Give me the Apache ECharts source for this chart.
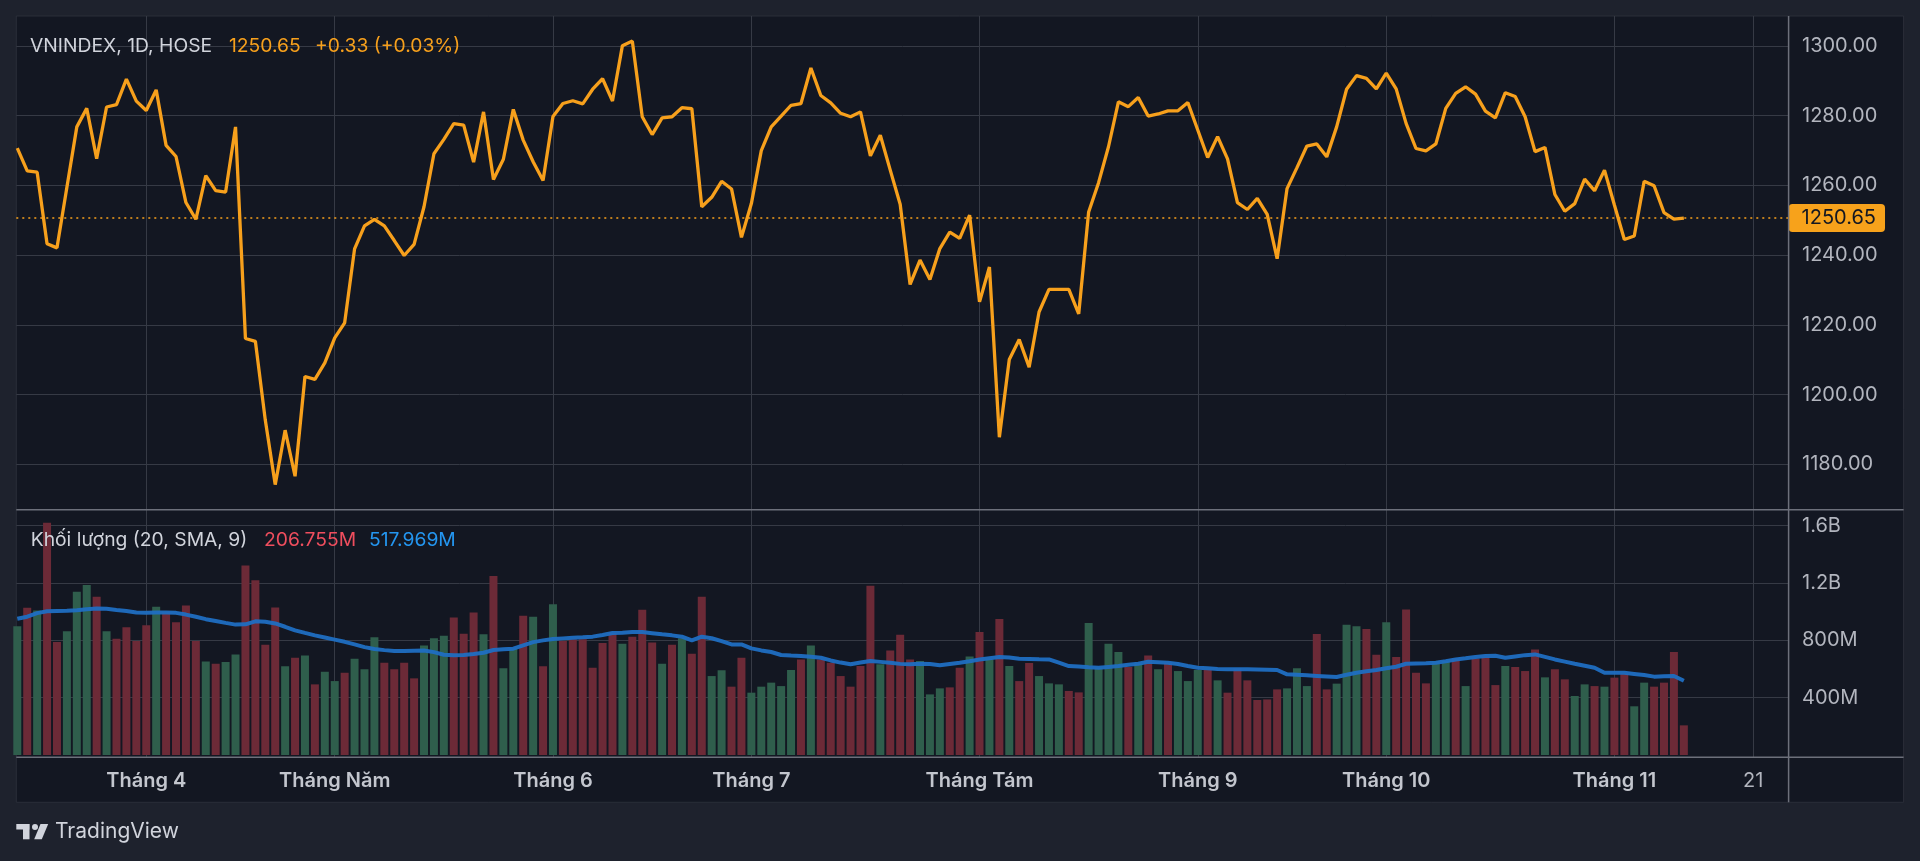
<!DOCTYPE html>
<html>
<head>
<meta charset="utf-8">
<title>VNINDEX</title>
<script src="https://cdn.jsdelivr.net/npm/echarts@6/dist/echarts.min.js"></script>
<style>
  html, body { margin: 0; padding: 0; background: #1e222d; }
  #chart { width: 1920px; height: 861px; }
</style>
</head>
<body>
<div id="chart"></div>
<script>
// giá đóng cửa VNINDEX theo phiên
let prices = [
  1270.7, 1264.2, 1263.8, 1243.3, 1242.1, 1259.5, 1276.8, 1282.1, 1267.7, 1282.5,
  1283.2, 1290.5, 1284.2, 1281.5, 1287.4, 1271.5, 1268.3, 1255.1, 1250.3, 1262.8,
  1258.5, 1258.1, 1276.8, 1216.1, 1215.3, 1192.7, 1174.2, 1189.8, 1176.6, 1205.2,
  1204.4, 1209.1, 1216.3, 1220.6, 1241.8, 1248.4, 1250.3, 1248.4, 1244.2, 1239.9,
  1243.1, 1253.9, 1269.1, 1273.2, 1277.7, 1277.3, 1266.7, 1281.1, 1261.7, 1267.5,
  1281.8, 1273.0, 1266.8, 1261.4, 1279.8, 1283.5, 1284.3, 1283.4, 1287.6, 1290.6,
  1284.2, 1300.1, 1301.4, 1279.7, 1274.6, 1279.4, 1279.7, 1282.3, 1282.0, 1253.9,
  1256.6, 1261.2, 1259.0, 1245.1, 1254.8, 1270.0, 1276.8, 1279.9, 1283.0, 1283.5,
  1293.7, 1285.8, 1283.7, 1280.7, 1279.7, 1281.1, 1268.5, 1274.4, 1264.4, 1254.6,
  1231.6, 1238.6, 1233.0, 1241.9, 1246.6, 1244.8, 1251.5, 1226.6, 1236.6, 1187.8,
  1210.1, 1215.8, 1207.9, 1223.7, 1230.2, 1230.2, 1230.2, 1223.2, 1252.4, 1260.8,
  1271.1, 1284.0, 1282.6, 1285.2, 1279.9, 1280.5, 1281.4, 1281.4, 1283.8, 1275.9,
  1268.0, 1274.0, 1267.6, 1255.1, 1253.1, 1256.3, 1251.7, 1239.0, 1259.1, 1265.1,
  1271.3, 1271.9, 1268.2, 1276.8, 1287.6, 1291.5, 1290.7, 1287.7, 1292.2, 1287.7,
  1277.8, 1270.6, 1269.9, 1271.9, 1282.1, 1286.4, 1288.3, 1286.2, 1281.3, 1279.4,
  1286.6, 1285.5, 1279.7, 1269.7, 1270.9, 1257.4, 1252.6, 1254.8, 1261.8, 1258.5,
  1264.4, 1254.4, 1244.5, 1245.5, 1261.2, 1259.9, 1252.2, 1250.32, 1250.65
];

// khối lượng (triệu cổ phiếu)
let volumes = [
  898, 1028, 1009, 1621, 788, 863, 1140, 1186, 1105, 863,
  812, 891, 795, 905, 1035, 998, 926, 1044, 795, 653,
  637, 649, 702, 1323, 1219, 770, 1030, 619, 679, 695,
  493, 581, 516, 574, 672, 598, 821, 644, 598, 644,
  535, 765, 814, 833, 960, 847, 995, 842, 1249, 605,
  744, 972, 965, 619, 1053, 795, 807, 807, 609, 781,
  853, 777, 826, 1014, 786, 637, 770, 814, 707, 1105,
  551, 591, 477, 679, 435, 477, 505, 481, 593, 667,
  765, 667, 644, 551, 477, 621, 1181, 633, 730, 840,
  667, 656, 423, 465, 472, 609, 688, 858, 667, 949,
  621, 516, 642, 551, 500, 493, 447, 437, 921, 609,
  777, 719, 614, 637, 695, 598, 644, 586, 516, 593,
  593, 521, 435, 605, 521, 384, 388, 458, 465, 605,
  481, 844, 458, 498, 909, 898, 879, 700, 926, 684,
  1016, 574, 500, 656, 656, 674, 481, 674, 684, 488,
  621, 614, 586, 737, 542, 598, 528, 412, 493, 481,
  477, 540, 567, 340, 505, 477, 505, 719, 207
];

// 1 = phiên tăng (xanh), 0 = phiên giảm (đỏ)
let volUp = [
  1, 0, 1, 0, 0, 1, 1, 1, 0, 1,
  0, 0, 0, 0, 1, 0, 0, 0, 0, 1,
  0, 1, 1, 0, 0, 0, 0, 1, 0, 1,
  0, 1, 1, 0, 1, 1, 1, 0, 0, 0,
  0, 1, 1, 1, 0, 0, 0, 1, 0, 1,
  1, 0, 1, 0, 1, 0, 0, 0, 0, 0,
  0, 1, 0, 0, 0, 1, 0, 1, 0, 0,
  1, 1, 0, 0, 1, 1, 1, 1, 1, 0,
  1, 0, 0, 0, 0, 0, 0, 1, 0, 0,
  0, 1, 1, 1, 0, 0, 1, 0, 1, 0,
  1, 0, 0, 1, 1, 1, 0, 0, 1, 1,
  1, 1, 0, 1, 0, 1, 0, 1, 1, 1,
  0, 1, 0, 0, 0, 0, 0, 0, 1, 1,
  1, 0, 0, 1, 1, 1, 0, 0, 1, 0,
  0, 0, 0, 1, 1, 0, 1, 0, 0, 0,
  1, 0, 0, 0, 1, 0, 0, 1, 1, 0,
  1, 0, 0, 1, 1, 0, 0, 0, 0
];

// đường SMA 20 của khối lượng
let volSma = [
  951, 965, 990, 1003, 1005, 1006, 1010, 1018, 1022, 1020,
  1012, 1005, 995, 993, 995, 995, 992, 980, 965, 948,
  935, 922, 910, 912, 933, 930, 918, 895, 870, 852,
  835, 820, 805, 790, 772, 753, 740, 732, 726, 726,
  728, 730, 718, 700, 696, 698, 705, 714, 733, 738,
  742, 765, 788, 800, 809, 814, 819, 822, 826, 838,
  851, 854, 858, 858, 850, 842, 835, 826, 800, 826,
  815, 795, 772, 772, 744, 730, 719, 698, 694, 691,
  685, 679, 660, 645, 633, 645, 656, 650, 644, 636,
  633, 637, 635, 626, 635, 644, 655, 667, 676, 684,
  680, 672, 670, 668, 667, 645, 621, 617, 612, 609,
  615, 621, 630, 637, 651, 648, 644, 635, 621, 609,
  605, 601, 598, 598, 598, 597, 595, 593, 563, 560,
  556, 552, 548, 544, 560, 574, 584, 593, 605, 616,
  637, 639, 641, 644, 655, 667, 675, 684, 691, 693,
  679, 688, 697, 702, 685, 667, 652, 637, 623, 609,
  574, 574, 574, 566, 558, 547, 549, 551, 518
];

// mốc thời gian (chỉ số phiên) và nhãn
let monthIdx = [13, 32, 54, 74, 97, 119, 138, 161, 175];
let monthLabels = ['Tháng 4', 'Tháng Năm', 'Tháng 6', 'Tháng 7', 'Tháng Tám', 'Tháng 9', 'Tháng 10', 'Tháng 11', '21'];

let priceTicks = [1180, 1200, 1220, 1240, 1260, 1280, 1300];
let volTicks = [400, 800, 1200, 1600];
let volTickLabels = ['400M', '800M', '1.2B', '1.6B'];

let lastPrice = 1250.65;

const FONT = 'Inter, Roboto, sans-serif';
const FS = 20;
const FS_LEGEND = 19.3;
const GRID_COLOR = '#363a45';
const SEP_COLOR = '#6d707b';
const TEXT_COLOR = '#b2b5be';
const ORANGE = '#f7a01c';

let myChart = echarts.init(document.getElementById('chart'), null, {renderer: 'canvas'});

// khung biểu đồ (px)
let boxL = 16.3, plotR = 1788.6, boxT = 16, paneSep = 509.7, plotB = 757.3, boxB = 802.3, boxR = 1903.6;

let xCommon = {
  type: 'value',
  min: -0.1,
  max: 178.56,
  axisLine: {show: false},
  axisTick: {show: false, customValues: monthIdx},
  splitLine: {show: true, lineStyle: {color: GRID_COLOR, width: 1}}
};

let option = {
  backgroundColor: '#1e222d',
  animation: false,
  grid: [
    {left: boxL, top: boxT, width: plotR - boxL, height: paneSep - boxT},
    {left: boxL, top: paneSep, width: plotR - boxL, height: plotB - paneSep}
  ],
  xAxis: [
    Object.assign({}, xCommon, {
      gridIndex: 0,
      axisLabel: {show: false}
    }),
    Object.assign({}, xCommon, {
      gridIndex: 1,
      axisLabel: {
        show: true,
        customValues: monthIdx,
        margin: 13.5,
        color: TEXT_COLOR,
        fontFamily: FONT,
        fontSize: FS,
        formatter: function (v) {
          let k = monthIdx.indexOf(Math.round(v));
          if (k < 0) return '';
          return monthLabels[k] === '21' ? '{n|21}' : '{b|' + monthLabels[k] + '}';
        },
        rich: {
          b: {fontFamily: FONT, fontSize: FS, fontWeight: 600, color: '#c3c6ce'},
          n: {fontFamily: FONT, fontSize: FS, fontWeight: 400, color: TEXT_COLOR}
        }
      }
    })
  ],
  yAxis: [
    {
      type: 'value',
      gridIndex: 0,
      position: 'right',
      min: 1167.0,
      max: 1308.6,
      axisLine: {show: false},
      axisTick: {show: false, customValues: priceTicks},
      axisLabel: {
        customValues: priceTicks,
        margin: 13.4,
        color: TEXT_COLOR,
        fontFamily: FONT,
        fontSize: FS,
        formatter: v => v.toFixed(2)
      },
      splitLine: {show: true, lineStyle: {color: GRID_COLOR, width: 1}}
    },
    {
      type: 'value',
      gridIndex: 1,
      position: 'right',
      min: -16,
      max: 1712,
      axisLine: {show: false},
      axisTick: {show: false, customValues: volTicks},
      axisLabel: {
        customValues: volTicks,
        margin: 13.4,
        color: TEXT_COLOR,
        fontFamily: FONT,
        fontSize: FS,
        formatter: v => volTickLabels[volTicks.indexOf(Math.round(v))] || ''
      },
      splitLine: {show: true, lineStyle: {color: GRID_COLOR, width: 1}}
    }
  ],
  series: [
    {
      name: 'VNINDEX',
      type: 'line',
      xAxisIndex: 0,
      yAxisIndex: 0,
      data: prices.map((p, i) => [i, p]),
      symbol: 'none',
      z: 5,
      lineStyle: {color: ORANGE, width: 3.3},
      markLine: {
        silent: true,
        symbol: 'none',
        lineStyle: {color: ORANGE, type: [2, 4], width: 1.5},
        label: {
          show: true,
          position: 'end',
          distance: 0,
          formatter: () => lastPrice.toFixed(2),
          color: '#131722',
          fontFamily: FONT,
          fontSize: FS,
          backgroundColor: '#f7a21b',
          borderRadius: 4,
          padding: [4, 9, 4, 13]
        },
        data: [{yAxis: lastPrice}]
      }
    },
    {
      name: 'Khối lượng',
      type: 'bar',
      xAxisIndex: 1,
      yAxisIndex: 1,
      barWidth: 8,
      data: volumes.map((v, i) => ({
        value: [i, v],
        itemStyle: {color: volUp[i] ? '#2f5e4c' : '#6c2a37'}
      }))
    },
    {
      name: 'SMA 9',
      type: 'line',
      xAxisIndex: 1,
      yAxisIndex: 1,
      data: volSma.map((v, i) => [i, v]),
      symbol: 'none',
      z: 4,
      lineStyle: {color: '#1f6ec2', width: 4, opacity: 0.95}
    }
  ],
  graphic: [
    // nền khung
    {type: 'rect', z: -10, silent: true,
      shape: {x: boxL, y: boxT, width: boxR - boxL, height: boxB - boxT},
      style: {fill: '#131722', stroke: '#2a2e39', lineWidth: 1}},
    // đường phân cách
    {type: 'line', z: 50, silent: true, shape: {x1: boxL, y1: paneSep, x2: boxR, y2: paneSep},
      style: {stroke: SEP_COLOR, lineWidth: 1.5}},
    {type: 'line', z: 50, silent: true, shape: {x1: boxL, y1: plotB, x2: boxR, y2: plotB},
      style: {stroke: SEP_COLOR, lineWidth: 1.5}},
    {type: 'line', z: 50, silent: true, shape: {x1: plotR, y1: boxT, x2: plotR, y2: boxB},
      style: {stroke: SEP_COLOR, lineWidth: 1.5}},
    // tiêu đề
    {type: 'text', z: 60, x: 30, y: 46,
      style: {text: 'VNINDEX, 1D, HOSE', fill: '#d1d4dc', fontFamily: FONT, fontSize: FS_LEGEND, verticalAlign: 'middle'}},
    {type: 'text', z: 60, x: 229, y: 46,
      style: {text: '1250.65', fill: ORANGE, fontFamily: FONT, fontSize: FS_LEGEND, verticalAlign: 'middle'}},
    {type: 'text', z: 60, x: 315, y: 46,
      style: {text: '+0.33 (+0.03%)', fill: ORANGE, fontFamily: FONT, fontSize: FS_LEGEND, verticalAlign: 'middle'}},
    // chú thích khối lượng
    {type: 'text', z: 60, x: 30.7, y: 540,
      style: {text: 'Khối lượng (20, SMA, 9)', fill: '#d1d4dc', fontFamily: FONT, fontSize: FS_LEGEND, verticalAlign: 'middle'}},
    {type: 'text', z: 60, x: 264, y: 540,
      style: {text: '206.755M', fill: '#ef4e5e', fontFamily: FONT, fontSize: FS_LEGEND, verticalAlign: 'middle'}},
    {type: 'text', z: 60, x: 369, y: 540,
      style: {text: '517.969M', fill: '#2496f0', fontFamily: FONT, fontSize: FS_LEGEND, verticalAlign: 'middle'}},
    // logo TradingView
    {type: 'rect', z: 60, shape: {x: 16.3, y: 824, width: 13, height: 5.5}, style: {fill: '#d1d4dc'}},
    {type: 'rect', z: 60, shape: {x: 23, y: 824, width: 6.5, height: 15.3}, style: {fill: '#d1d4dc'}},
    {type: 'circle', z: 60, shape: {cx: 35, cy: 827, r: 3}, style: {fill: '#d1d4dc'}},
    {type: 'polygon', z: 60, shape: {points: [[40.5, 824], [48.2, 824], [41.8, 839.3], [34.2, 839.3]]}, style: {fill: '#d1d4dc'}},
    {type: 'text', z: 60, x: 55, y: 832,
      style: {text: 'TradingView', fill: '#d1d4dc', fontFamily: FONT, fontSize: 21, verticalAlign: 'middle'}}
  ]
};

myChart.setOption(option);
</script>
</body>
</html>
